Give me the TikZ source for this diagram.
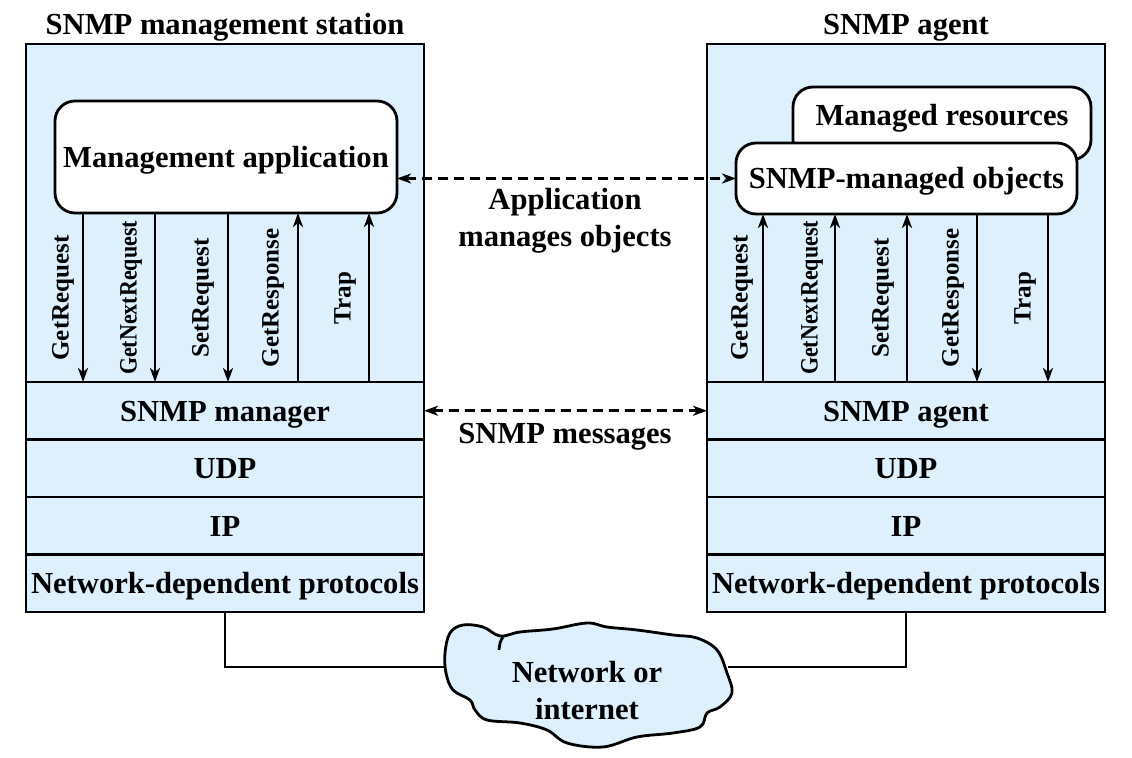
\documentclass[tikz,border=0pt]{standalone}
\usepackage{fontspec}
\setmainfont{Liberation Serif}
\usetikzlibrary{arrows,arrows.meta,positioning}
\definecolor{stnblue}{RGB}{221,240,252}
\newcommand\narrowtxt[1]{\scalebox{0.88}[1]{#1}}
\tikzset{
  panel/.style={draw, line width=1.4pt, fill=stnblue, minimum width=199pt, inner sep=0pt, outer sep=0pt},
  layer/.style={panel, minimum height=28.75pt, text height=10.5pt, text depth=0pt,
    font=\fontsize{15.3}{18.5}\selectfont\bfseries},
  title/.style={font=\fontsize{15.3}{18.5}\selectfont\bfseries},
  appbox/.style={draw, line width=1.4pt, fill=white, rounded corners=10pt, inner sep=0pt, outer sep=0pt,
    text height=10.5pt, text depth=0pt, font=\fontsize{15.3}{18.5}\selectfont\bfseries},
  msg/.style={line width=1.3pt, -{Stealth[length=7pt,width=5pt,inset=2pt]}},
  dashlink/.style={line width=1.3pt, dash pattern=on 5pt off 3pt,
    {Stealth[length=7pt,width=5pt,inset=2pt]}-{Stealth[length=7pt,width=5pt,inset=2pt]}},
  vlabel/.style={rotate=90, font=\fontsize{12.5}{14}\selectfont\bfseries},
  wire/.style={line width=1.3pt},
  cloudline/.style={line width=1.4pt}
}
\begin{document}
\begin{tikzpicture}[x=0.5pt,y=-0.5pt]
\useasboundingbox (0,0) rectangle (1132,758);

% management station
\node[title, text height=10.5pt, text depth=0pt] (mtitle) at (225,24) {SNMP management station};
\node[panel, minimum height=169pt] (mbox) at (225,213) {};
\node[layer, below=0pt of mbox] (mmgr) {SNMP manager};
\node[layer, below=0pt of mmgr] (mudp) {UDP};
\node[layer, below=0pt of mudp] (mip) {IP};
\node[layer, below=0pt of mip] (mndp) {Network-dependent protocols};
\node[appbox, minimum width=171pt, minimum height=56pt] (mapp) at (226,157) {Management application};

% agent
\node[title, text height=10.5pt, text depth=0pt] (atitle) at (906,24) {SNMP agent};
\node[panel, minimum height=169pt] (abox) at (906,213) {};
\node[layer, below=0pt of abox] (amgr) {SNMP agent};
\node[layer, below=0pt of amgr] (audp) {UDP};
\node[layer, below=0pt of audp] (aip) {IP};
\node[layer, below=0pt of aip] (andp) {Network-dependent protocols};
\node[appbox, minimum width=149pt, minimum height=36.5pt, text depth=8.5pt] (ares) at (942,123.5) {Managed resources};
\node[appbox, minimum width=170.5pt, minimum height=35.5pt] (aobj) at (906.5,178.5) {SNMP-managed objects};

% PDU arrows
\foreach \x/\lx/\name in {83/63/GetRequest, 155/131/\narrowtxt{GetNextRequest}, 228/203/SetRequest}{
  \draw[msg] (mapp.south -| \x,0) -- (mmgr.north -| \x,0);
  \node[vlabel] at (\lx,298) {\name};
}
\foreach \x/\lx/\name in {298/273/GetResponse, 369/345/Trap}{
  \draw[msg] (mmgr.north -| \x,0) -- (mapp.south -| \x,0);
  \node[vlabel] at (\lx,298) {\name};
}
\foreach \x/\lx/\name in {763/742/GetRequest, 835/812/\narrowtxt{GetNextRequest}, 907/883/SetRequest}{
  \draw[msg] (amgr.north -| \x,0) -- (aobj.south -| \x,0);
  \node[vlabel] at (\lx,298) {\name};
}
\foreach \x/\lx/\name in {977/953/GetResponse, 1048/1025/Trap}{
  \draw[msg] (aobj.south -| \x,0) -- (amgr.north -| \x,0);
  \node[vlabel] at (\lx,298) {\name};
}

% peer links
\draw[dashlink] (mapp.east |- aobj.west) -- (aobj.west);
\node[title, align=center] (applbl) at (565,221) {Application\\manages objects};
\draw[dashlink] (mmgr.east) -- (amgr.west);
\node[title, text height=10.5pt, text depth=0pt] (msglbl) at (565,433) {SNMP messages};

% network cloud
\draw[cloudline, fill=stnblue] plot[smooth cycle, tension=0.6] coordinates {
  (450,633) (463,625) (483,627) (500,636) (520,632) (553,629) (587,623) (607,627)
  (637,630) (673,635) (697,638) (717,650) (727,673) (732,693) (720,707) (707,713)
  (700,727) (673,733) (637,737) (603,747) (567,743) (547,730) (520,723) (487,720)
  (475,710) (470,700) (453,690) (446,673) (445,653)};
\draw[cloudline] (503,637) .. controls (500,642) .. (499,650);
\node[title, align=center] (net) at (587,691) {Network or\\internet};
\coordinate (cw) at (446,667);
\coordinate (ce) at (728,667);
\draw[wire] (mndp.south) |- (cw);
\draw[wire] (andp.south) |- (ce);
\end{tikzpicture}
\end{document}
